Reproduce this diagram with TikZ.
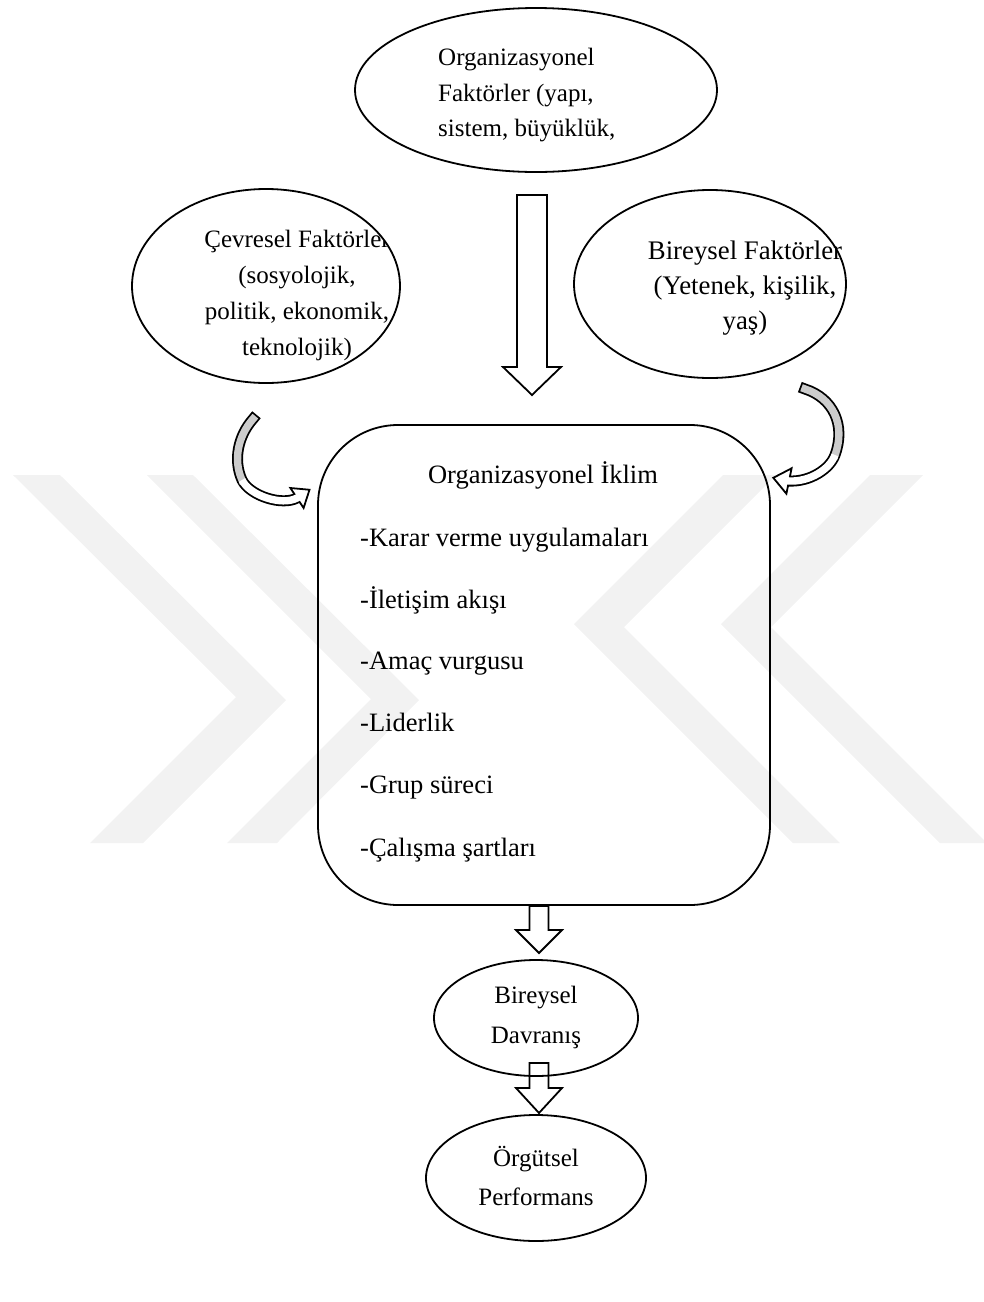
\documentclass[tikz,border=0pt]{standalone}
\usepackage{fontspec}
\setmainfont{Liberation Serif}
\usetikzlibrary{shapes.geometric}
\begin{document}
\begin{tikzpicture}[x=1pt,y=-1pt,
  outl/.style={draw=black,line width=1.8pt},
  ell/.style={ellipse,outl,inner sep=0pt},
  etxt/.style={inner sep=0pt,font=\fontsize{25}{30}\selectfont},
  rtxt/.style={inner sep=0pt,font=\fontsize{26.8}{30}\selectfont},
  btxt/.style={inner sep=0pt,font=\fontsize{26.5}{30}\selectfont},
  wm/.style={fill=black!5,draw=none},
  blockarrow/.style={outl,fill=white,line join=miter},
  bandout/.style={line width=11pt,line cap=rect,draw=black},
]
\useasboundingbox (0,0) rectangle (984,1302);
% watermark
\fill[wm] (13,475) -- (60,475) -- (286,700) -- (143,843) -- (90,843) -- (236,697) -- cycle;
\fill[wm] (147,475) -- (193,475) -- (419,700) -- (277,843) -- (227,843) -- (371,699) -- cycle;
\fill[wm] (870,475) -- (923,475) -- (771,627) -- (987,843) -- (940,843) -- (721,624) -- cycle;
\fill[wm] (723,475) -- (776,475) -- (624,627) -- (840,843) -- (793,843) -- (574,624) -- cycle;

% ellipses
\node[ell,minimum width=362pt,minimum height=164pt] (orgf) at (536,90) {};
\node[etxt,anchor=base west] (orgf1) at (438,65) {Organizasyonel};
\node[etxt,anchor=base west] (orgf2) at (438,101) {Faktörler (yapı,};
\node[etxt,anchor=base west] (orgf3) at (438,136) {sistem, büyüklük,};

\node[ell,minimum width=268pt,minimum height=194pt] (cevre) at (266,286) {};
\begin{scope}
\clip (266,286) ellipse [x radius=133pt, y radius=96pt];
\node[etxt,anchor=base] (cevre1) at (297,247) {Çevresel Faktörler};
\node[etxt,anchor=base] (cevre2) at (297,283) {(sosyolojik,};
\node[etxt,anchor=base] (cevre3) at (297,319) {politik, ekonomik,};
\node[etxt,anchor=base] (cevre4) at (297,355) {teknolojik)};
\end{scope}

\node[ell,minimum width=272pt,minimum height=188pt] (birey) at (710,284) {};
\node[rtxt,anchor=base] (birey1) at (745,259) {Bireysel Faktörler};
\node[rtxt,anchor=base] (birey2) at (745,294) {(Yetenek, kişilik,};
\node[rtxt,anchor=base] (birey3) at (745,329) {yaş)};

% climate box
\node[outl,rounded corners=80pt,minimum width=452pt,minimum height=480pt] (iklim) at (544,665) {};
\node[btxt,anchor=base] (ik0) at (543,483) {Organizasyonel İklim};
\node[btxt,anchor=base west] (ik1) at (360,546) {-Karar verme uygulamaları};
\node[btxt,anchor=base west] (ik2) at (360,608) {-İletişim akışı};
\node[btxt,anchor=base west] (ik3) at (360,669) {-Amaç vurgusu};
\node[btxt,anchor=base west] (ik4) at (360,731) {-Liderlik};
\node[btxt,anchor=base west] (ik5) at (360,793) {-Grup süreci};
\node[btxt,anchor=base west] (ik6) at (360,856) {-Çalışma şartları};

% block arrows
\draw[blockarrow] (517,195) -- (547,195) -- (547,367) -- (561,367) -- (532,395) -- (503,367) -- (517,367) -- cycle;
\draw[blockarrow] (529.5,906) -- (548.5,906) -- (548.5,930) -- (562,930) -- (539,953) -- (516,930) -- (529.5,930) -- cycle;
\draw[blockarrow] (529.5,1063) -- (548.5,1063) -- (548.5,1088) -- (562,1088) -- (539,1113) -- (516,1088) -- (529.5,1088) -- cycle;

% lower ellipses
\node[ell,minimum width=204pt,minimum height=116pt] (davr) at (536,1018) {};
\node[etxt,anchor=base] (davr1) at (536,1003) {Bireysel};
\node[etxt,anchor=base] (davr2) at (536,1043) {Davranış};

\node[ell,minimum width=220pt,minimum height=126pt] (perf) at (536,1178) {};
\node[etxt,anchor=base] (perf1) at (536,1166) {Örgütsel};
\node[etxt,anchor=base] (perf2) at (536,1205) {Performans};

% curved arrow left (environment -> climate)
\coordinate (lt) at (253,419);
\coordinate (lm) at (242,480);
\coordinate (lb) at (297,498);
\draw[bandout] (lt) .. controls (238,436) and (233,460) .. (lm) .. controls (250,496) and (282,506) .. (lb);
\draw[outl,fill=white,line join=miter] (290.4,488) -- (309.5,489.75) -- (303.6,508) -- cycle;
\draw[line width=7.4pt,line cap=rect,draw=gray!40] (lt) .. controls (238,436) and (233,460) .. (lm);
\draw[line width=7.4pt,draw=white] (lm) .. controls (250,496) and (282,506) .. (lb) -- ++(1.7,-1.1);

% curved arrow right (individual -> climate)
\coordinate (rt) at (805,389);
\coordinate (rm) at (835,455);
\coordinate (rb) at (789,481);
\draw[bandout] (rt) .. controls (833,398) and (846,425) .. (rm) .. controls (830,469) and (810,482) .. (rb);
\draw[outl,fill=white,line join=miter] (791.6,468.3) -- (773.3,477.8) -- (786.4,493.7) -- cycle;
\draw[line width=7.4pt,line cap=rect,draw=gray!40] (rt) .. controls (833,398) and (846,425) .. (rm);
\draw[line width=7.4pt,draw=white] (rm) .. controls (830,469) and (810,482) .. (rb) -- ++(-2,-0.4);
\end{tikzpicture}
\end{document}
